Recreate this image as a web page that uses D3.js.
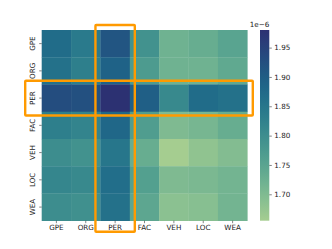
<!DOCTYPE html>
<html><head><meta charset="utf-8">
<script src="https://cdn.jsdelivr.net/npm/d3@7"></script>
<style>body{margin:0;background:#fff}svg{display:block}text{font-family:"DejaVu Sans",sans-serif;fill:#222}</style>
</head><body><svg id="c" width="332" height="249"></svg>
<script>
const categories = ["GPE","ORG","PER","FAC","VEH","LOC","WEA"];
// values in units of 1e-6; rows = y categories, columns = x categories
const rowGPE = [1.87, 1.84, 1.915, 1.79, 1.72, 1.73, 1.75];
const rowORG = [1.86, 1.83, 1.89, 1.77, 1.72, 1.72, 1.74];
const rowPER = [1.93, 1.925, 1.98, 1.895, 1.81, 1.87, 1.86];
const rowFAC = [1.83, 1.82, 1.88, 1.765, 1.70, 1.71, 1.73];
const rowVEH = [1.80, 1.79, 1.85, 1.73, 1.655, 1.68, 1.695];
const rowLOC = [1.815, 1.81, 1.865, 1.76, 1.70, 1.705, 1.715];
const rowWEA = [1.80, 1.795, 1.86, 1.745, 1.685, 1.69, 1.715];
const colorbarTicks = [1.70, 1.75, 1.80, 1.85, 1.90, 1.95];
const highlightRow = "PER";
const highlightCol = "PER";

const rows = [rowGPE,rowORG,rowPER,rowFAC,rowVEH,rowLOC,rowWEA];
const cells = [];
rows.forEach((r,i)=>r.forEach((v,j)=>cells.push({row:categories[i],col:categories[j],v})));
const allV = cells.map(d=>d.v);
const vmin = d3.min(allV), vmax = d3.max(allV);

const crest = d3.interpolateRgbBasis(["#a5cd90","#7dba91","#59a590","#40908e","#287a8c","#1c6488","#254b7f","#2c3172"]);
const color = d3.scaleSequential(crest).domain([vmin, vmax]);

const svg = d3.select("#c");
const L=41.7, R=247.3, T=30, B=220.7;
const x = d3.scaleBand().domain(categories).range([L,R]);
const y = d3.scaleBand().domain(categories).range([T,B]);

svg.append("g").selectAll("rect").data(cells).join("rect")
  .attr("x",d=>x(d.col)).attr("y",d=>y(d.row))
  .attr("width",x.bandwidth()+0.3).attr("height",y.bandwidth()+0.3)
  .attr("fill",d=>color(d.v));

const fs = 7.2;
const xAxis = svg.append("g").attr("transform",`translate(0,${B})`)
  .call(d3.axisBottom(x).tickSize(2.5).tickPadding(2));
const yAxis = svg.append("g").attr("transform",`translate(${L},0)`)
  .call(d3.axisLeft(y).tickSize(2.5).tickPadding(2));
[xAxis,yAxis].forEach(a=>{a.select(".domain").remove();a.selectAll("line").attr("stroke","#333").attr("stroke-width",0.6);a.selectAll("text").attr("font-size",fs).attr("font-family","DejaVu Sans").attr("fill","#262626");});
yAxis.selectAll(".tick text").attr("transform","rotate(-90)").attr("x",0).attr("y",-6.5).attr("dy","0").attr("text-anchor","middle");

// colorbar
const cbL=260, cbW=9.3;
const cy = d3.scaleLinear().domain([vmin,vmax]).range([B,T]);
const defs = svg.append("defs");
const grad = defs.append("linearGradient").attr("id","g").attr("x1",0).attr("y1",1).attr("x2",0).attr("y2",0);
d3.range(0,1.001,0.05).forEach(t=>grad.append("stop").attr("offset",t).attr("stop-color",crest(t)));
svg.append("rect").attr("x",cbL).attr("y",T).attr("width",cbW).attr("height",B-T).attr("fill","url(#g)");
const cAxis = svg.append("g").attr("transform",`translate(${cbL+cbW},0)`)
  .call(d3.axisRight(cy).tickValues(colorbarTicks).tickFormat(d3.format(".2f")).tickSize(2.5).tickPadding(2.5));
cAxis.select(".domain").remove();
cAxis.selectAll("line").attr("stroke","#333").attr("stroke-width",0.6);
cAxis.selectAll("text").attr("font-size",fs).attr("font-family","DejaVu Sans").attr("fill","#262626");
svg.append("text").attr("x",cbL+cbW).attr("y",T-3).attr("text-anchor","end").attr("font-size",fs).attr("fill","#262626").text("1e\u22126");

// highlight boxes
const pad = 5;
const oc = "#ff9a00";
svg.append("rect")
  .attr("x",x(highlightCol)-pad).attr("width",x.bandwidth()+2*pad)
  .attr("y",T-5).attr("height",(B-T)+16)
  .attr("fill","none").attr("stroke",oc).attr("stroke-width",2.4).attr("rx",0.8);
svg.append("rect")
  .attr("x",L-16.5).attr("width",(R-L)+22)
  .attr("y",y(highlightRow)-3.8).attr("height",y.bandwidth()+7.6)
  .attr("fill","none").attr("stroke",oc).attr("stroke-width",2.4).attr("rx",0.8);
</script></body></html>
